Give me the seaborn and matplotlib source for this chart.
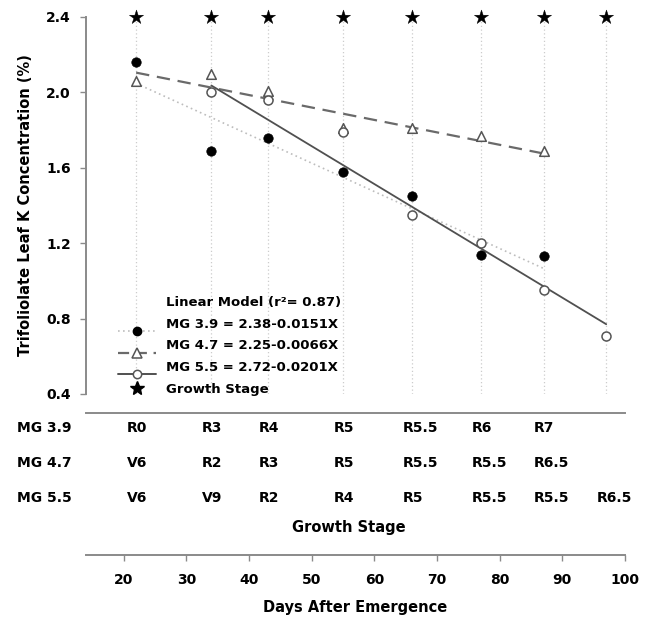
import numpy as np
import pandas as pd
import matplotlib
matplotlib.use("Agg")
import matplotlib.pyplot as plt
import seaborn as sns
from matplotlib.lines import Line2D
from matplotlib.legend_handler import HandlerLine2D

# ---------------- data ----------------
days = [22, 34, 43, 55, 66, 77, 87, 97]
mg39 = [2.16, 1.69, 1.76, 1.58, 1.45, 1.14, 1.13, np.nan]
mg47 = [2.06, 2.10, 2.01, 1.81, 1.81, 1.77, 1.69, np.nan]
mg55 = [np.nan, 2.00, 1.96, 1.79, 1.35, 1.20, 0.95, 0.71]

# regression coefficients printed in the legend
intercepts = [2.38, 2.25, 2.72]
slopes = [-0.0151, -0.0066, -0.0201]
series_names = ["MG 3.9", "MG 4.7", "MG 5.5"]
legend_title = "Linear Model (r\u00b2= 0.87)"
legend_labels = ["MG 3.9 = 2.38-0.0151X", "MG 4.7 = 2.25-0.0066X",
                 "MG 5.5 = 2.72-0.0201X", "Growth Stage"]

stage_level = 2.4  # stars plotted at top
stage39 = ["R0", "R3", "R4", "R5", "R5.5", "R6", "R7", ""]
stage47 = ["V6", "R2", "R3", "R5", "R5.5", "R5.5", "R6.5", ""]
stage55 = ["V6", "V9", "R2", "R4", "R5", "R5.5", "R5.5", "R6.5"]

yticks = [0.4, 0.8, 1.2, 1.6, 2.0, 2.4]
xticks = [20, 30, 40, 50, 60, 70, 80, 90, 100]

# ---------------- style ----------------
sns.set_theme(style="white")
plt.rcParams["font.family"] = ["DejaVu Sans"]
plt.rcParams["font.weight"] = "bold"
plt.rcParams["axes.labelweight"] = "bold"
plt.rcParams["text.color"] = "black"
plt.rcParams["axes.labelcolor"] = "black"
plt.rcParams["xtick.labelcolor"] = "black"
plt.rcParams["ytick.labelcolor"] = "black"

W, H = 652, 623
fig = plt.figure(figsize=(W / 100, H / 100), dpi=100)


def rect(l, t, r, b):
    return [l / W, 1 - b / H, (r - l) / W, (b - t) / H]


ax = fig.add_axes(rect(86, 17, 625, 394))
ax2 = fig.add_axes(rect(86, 413, 625, 555))

spine_col = "#8a8a8a"

# ---------------- top panel ----------------
df = pd.DataFrame({"day": days, "MG 3.9": mg39, "MG 4.7": mg47, "MG 5.5": mg55})
long = df.melt(id_vars="day", var_name="MG", value_name="K").dropna()

for d in days:
    ax.axvline(d, color="#cccccc", ls=(0, (1, 2)), lw=0.9, zorder=0)

# regression lines
line_styles = [dict(color="#bdbdbd", ls=(0, (1, 2)), lw=1.2),
               dict(color="#6a6a6a", ls=(0, (6, 3.5)), lw=1.6),
               dict(color="#505050", ls="-", lw=1.3)]
for name, a, b, st in zip(series_names, intercepts, slopes, line_styles):
    sub = long[long["MG"] == name]
    xr = np.array([sub["day"].min(), sub["day"].max()])
    fit = pd.DataFrame({"day": xr, "K": a + b * xr})
    sns.lineplot(data=fit, x="day", y="K", ax=ax, color=st["color"],
                 lw=st["lw"], zorder=1, legend=False).lines[-1].set_linestyle(st["ls"])

# points
sns.scatterplot(data=long[long["MG"] == "MG 4.7"], x="day", y="K", ax=ax,
                marker="^", s=48, facecolor="white", edgecolor="#555555",
                linewidth=1.1, zorder=3, legend=False)
sns.scatterplot(data=long[long["MG"] == "MG 5.5"], x="day", y="K", ax=ax,
                marker="o", s=42, facecolor="white", edgecolor="#555555",
                linewidth=1.1, zorder=3, legend=False)
sns.scatterplot(data=long[long["MG"] == "MG 3.9"], x="day", y="K", ax=ax,
                marker="o", s=46, color="black", edgecolor="black",
                linewidth=0.5, zorder=4, legend=False)

# growth stage stars
stars = pd.DataFrame({"day": days, "K": [stage_level] * len(days)})
sns.scatterplot(data=stars, x="day", y="K", ax=ax, marker="*", s=115,
                color="black", edgecolor="black", linewidth=0.3,
                zorder=5, clip_on=False, legend=False)

ax.set_xlim(14, 100)
ax.set_ylim(0.4, 2.4)
ax.set_yticks(yticks)
ax.set_yticklabels([f"{v:.1f}" for v in yticks], fontsize=10, fontweight="bold")
ax.set_xticks([])
ax.set_xlabel("")
ax.set_ylabel("Trifoliolate Leaf K Concentration (%)", fontsize=10.5,
              fontweight="bold", labelpad=9)
for s in ["top", "right", "bottom"]:
    ax.spines[s].set_visible(False)
ax.spines["left"].set_color(spine_col)
ax.spines["left"].set_linewidth(1.4)
ax.tick_params(axis="y", direction="out", length=4, width=1, color=spine_col,
               pad=7, left=True)
ax.grid(False)


# legend: line drawn below marker, like the original
class LowLine(HandlerLine2D):
    def create_artists(self, legend, orig_handle, xdescent, ydescent, width,
                       height, fontsize, trans):
        arts = super().create_artists(legend, orig_handle, xdescent, ydescent,
                                      width, height, fontsize, trans)
        line = arts[0]
        line.set_ydata(np.asarray(line.get_ydata()) - 0.6 * fontsize)
        return arts


h0 = Line2D([], [], ls="none", marker=None)
h1 = Line2D([], [], color="#bdbdbd", ls=(0, (1, 2)), lw=1.2, marker="o",
            mfc="black", mec="black", ms=6)
h2 = Line2D([], [], color="#6a6a6a", ls=(0, (5, 3)), lw=1.6, marker="^",
            mfc="white", mec="#555555", ms=7, mew=1.1)
h3 = Line2D([], [], color="#505050", ls="-", lw=1.4, marker="o",
            mfc="white", mec="#555555", ms=6, mew=1.1)
h4 = Line2D([], [], ls="none", marker="*", color="black", ms=10)
leg = ax.legend([h0, h1, h2, h3, h4], [legend_title] + legend_labels,
                handler_map={h1: LowLine(), h2: LowLine(), h3: LowLine()},
                loc="upper left", bbox_to_anchor=(118 / W, 1 - 296 / H),
                bbox_transform=fig.transFigure, frameon=False, fontsize=9.5,
                handlelength=2.9, handletextpad=0.7, labelspacing=0.66,
                borderpad=0, borderaxespad=0)
for t in leg.get_texts():
    t.set_fontweight("bold")
    t.set_color("black")

# ---------------- bottom panel ----------------
ax2.set_xlim(14, 100)
ax2.set_ylim(0, 1)
ax2.set_yticks([])
ax2.set_xticks(xticks)
ax2.set_xticklabels([str(v) for v in xticks], fontsize=10, fontweight="bold")
for s in ["left", "right"]:
    ax2.spines[s].set_visible(False)
for s in ["top", "bottom"]:
    ax2.spines[s].set_color(spine_col)
    ax2.spines[s].set_linewidth(1.4)
ax2.tick_params(axis="x", direction="out", length=4, width=1, color=spine_col,
                pad=9, bottom=True)
ax2.set_xlabel("Days After Emergence", fontsize=10.5, fontweight="bold",
               labelpad=9)
ax2.grid(False)
ax2.set_facecolor("none")

tr = ax2.get_xaxis_transform()
row_y = [0.894, 0.648, 0.401]
for name, labels, yy in zip(series_names, [stage39, stage47, stage55], row_y):
    ax2.text(-0.128, yy, name, transform=ax2.transAxes, ha="left", va="center",
             fontsize=10, fontweight="bold")
    for d, lab in zip(days, labels):
        if lab:
            ax2.text(d - 1.5, yy, lab, transform=tr, ha="left", va="center",
                     fontsize=10, fontweight="bold")
ax2.text(0.487, 0.197, "Growth Stage", transform=ax2.transAxes, ha="center",
         va="center", fontsize=10.5, fontweight="bold")

fig.savefig("out.png", dpi=100)
